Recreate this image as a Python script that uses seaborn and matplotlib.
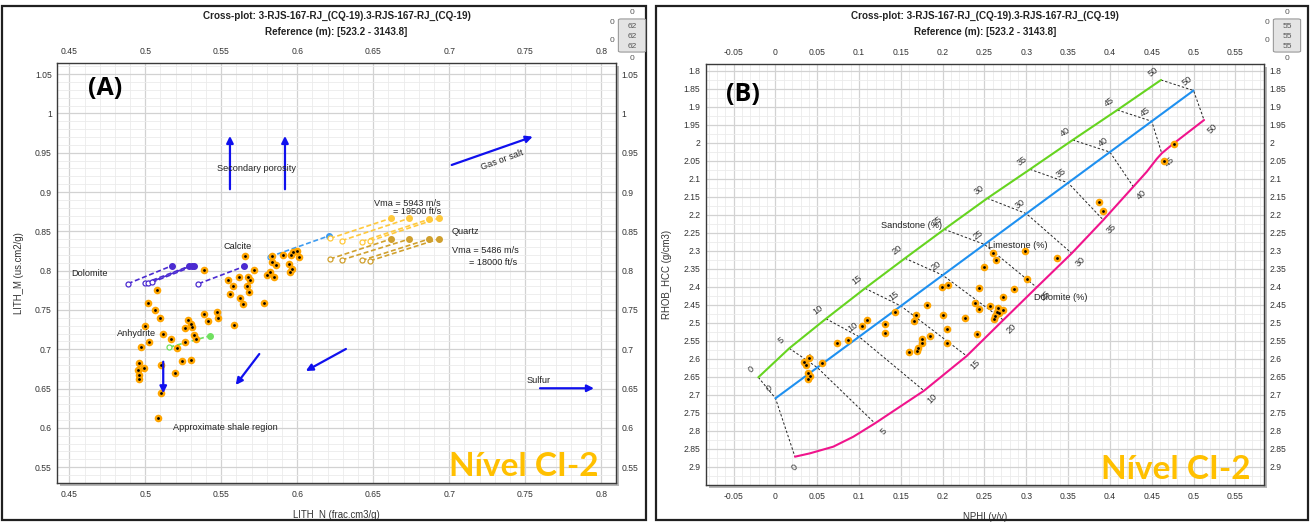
import matplotlib
matplotlib.use("Agg")
import matplotlib.pyplot as plt
from matplotlib.patches import Rectangle, FancyBboxPatch
from matplotlib.ticker import MultipleLocator, FixedLocator, FuncFormatter
import numpy as np
import seaborn as sns

sns.set_style("whitegrid")
plt.rcParams['font.family'] = ['Liberation Sans', 'DejaVu Sans']

# ---------------- panel A : LITH_N x LITH_M ----------------
a_lith_n = [0.5659, 0.5714, 0.5383, 0.5544, 0.5615, 0.5676, 0.5687, 0.5577, 0.5667, 0.5559,
            0.5683, 0.5621, 0.5643, 0.5782, 0.5075, 0.5015, 0.5064, 0.5097, 0.5388, 0.5469,
            0.5480, 0.5412, 0.5282, 0.5300, 0.5306, 0.5260, 0.5581, 0.4998, 0.5119, 0.5322,
            0.5333, 0.5167, 0.5262, 0.5022, 0.5207, 0.4971, 0.4958, 0.4991, 0.4952, 0.4958,
            0.4958, 0.5104, 0.5240, 0.5302, 0.5198, 0.5101, 0.5081, 0.5835, 0.5903, 0.5956,
            0.5974, 0.5996, 0.6011, 0.5835, 0.5862, 0.5945, 0.5967, 0.5952, 0.5804, 0.5822,
            0.5844]
a_lith_m = [0.8183, 0.8004, 0.8013, 0.7885, 0.7915, 0.7915, 0.7885, 0.7809, 0.7809, 0.7703,
            0.7728, 0.7652, 0.7571, 0.7592, 0.7749, 0.7592, 0.7503, 0.7397, 0.7448, 0.7477,
            0.7397, 0.7359, 0.7367, 0.7325, 0.7278, 0.7269, 0.7308, 0.7295, 0.7197, 0.7180,
            0.7129, 0.7129, 0.7087, 0.7091, 0.7014, 0.7027, 0.6828, 0.6760, 0.6734, 0.6670,
            0.6624, 0.6806, 0.6857, 0.6870, 0.6700, 0.6441, 0.6122, 0.8183, 0.8195, 0.8195,
            0.8238, 0.8251, 0.8170, 0.8106, 0.8076, 0.8089, 0.8021, 0.7987, 0.7949, 0.7983,
            0.7915]

# mineral lines (open circle at start, filled circle at end)
min_x0 = [0.4885, 0.4998, 0.5020, 0.5042, 0.5350, 0.5820, 0.5159,
          0.6215, 0.6292, 0.6424, 0.6478, 0.6215, 0.6292, 0.6424, 0.6478]
min_y0 = [0.7834, 0.7843, 0.7843, 0.7850, 0.7834, 0.8178, 0.7027,
          0.8410, 0.8382, 0.8371, 0.8378, 0.8149, 0.8136, 0.8130, 0.8125]
min_x1 = [0.5176, 0.5286, 0.5304, 0.5322, 0.5652, 0.6211, 0.5427,
          0.6616, 0.6737, 0.6866, 0.6930, 0.6616, 0.6737, 0.6866, 0.6930]
min_y1 = [0.8064, 0.8055, 0.8064, 0.8064, 0.8055, 0.8445, 0.7172,
          0.8667, 0.8667, 0.8654, 0.8667, 0.8403, 0.8403, 0.8403, 0.8403]
min_col = ['#4B2BD1'] * 5 + ['#3D9BF0', '#70E060'] + ['#FFC93C'] * 4 + ['#D0A02E'] * 4

# blue arrows
arr_x0 = [0.5557, 0.5919, 0.7016, 0.5118, 0.5750, 0.6320, 0.7597]
arr_y0 = [0.9036, 0.9036, 0.9345, 0.6842, 0.6940, 0.7004, 0.6504]
arr_x1 = [0.5557, 0.5919, 0.7549, 0.5118, 0.5595, 0.6056, 0.7952]
arr_y1 = [0.9714, 0.9714, 0.9705, 0.6440, 0.6546, 0.6724, 0.6504]

# ---------------- panel B : NPHI x RHOB ----------------
b_nphi = [0.4767, 0.4647, 0.3873, 0.3921, 0.2984, 0.3363, 0.2606, 0.2638, 0.2498, 0.3005,
          0.2857, 0.2434, 0.1992, 0.2067, 0.2718, 0.2386, 0.2434, 0.2562, 0.2665, 0.2718,
          0.2645, 0.2625, 0.2614, 0.2677, 0.2267, 0.2000, 0.2055, 0.2406, 0.2047, 0.1808,
          0.1681, 0.1656, 0.1848, 0.1752, 0.1748, 0.1700, 0.1693, 0.1597, 0.1433, 0.1310,
          0.1310, 0.1094, 0.1035, 0.0867, 0.0736, 0.0552, 0.0401, 0.0345, 0.0365, 0.0385,
          0.0413, 0.0385]
b_rhob = [2.0044, 2.0500, 2.1647, 2.1889, 2.3008, 2.3203, 2.3055, 2.3267, 2.3461, 2.3795,
          2.4055, 2.4036, 2.4018, 2.3953, 2.4278, 2.4461, 2.4628, 2.4526, 2.4600, 2.4646,
          2.4694, 2.4814, 2.4888, 2.4740, 2.4861, 2.4787, 2.5167, 2.5314, 2.5573, 2.4508,
          2.4777, 2.4944, 2.5370, 2.5462, 2.5573, 2.5712, 2.5786, 2.5823, 2.4694, 2.5036,
          2.5295, 2.4925, 2.5092, 2.5489, 2.5573, 2.6119, 2.5972, 2.6083, 2.6183, 2.6406,
          2.6472, 2.6572]

porosity = [0, 5, 10, 15, 20, 25, 30, 35, 40, 45, 50]
ss_nphi = [-0.0205, 0.0165, 0.0604, 0.1071, 0.1549, 0.2019, 0.2533, 0.3044, 0.3555, 0.4089, 0.4611]
ss_rhob = [2.6517, 2.5711, 2.4889, 2.4045, 2.3211, 2.2406, 2.1545, 2.0739, 1.9925, 1.9092, 1.8258]
ls_nphi = [0.0, 0.05, 0.10, 0.15, 0.20, 0.25, 0.30, 0.35, 0.40, 0.45, 0.50]
ls_rhob = [2.710, 2.6245, 2.539, 2.4535, 2.368, 2.2825, 2.197, 2.1115, 2.026, 1.9405, 1.855]
dl_nphi = [0.0233, 0.119, 0.1776, 0.2287, 0.2725, 0.3124, 0.3543, 0.3921, 0.428, 0.462, 0.5126]
dl_rhob = [2.8722, 2.7795, 2.689, 2.5925, 2.4925, 2.4018, 2.3073, 2.2147, 2.1222, 2.0295, 1.937]
# dolomite curve trace (bends near zero and near 45 %)
dl_curve_nphi = [0.0233, 0.0413, 0.0691, 0.0931, 0.119, 0.1489, 0.1776, 0.2287, 0.2725, 0.3124,
                 0.3543, 0.3921, 0.428, 0.4441, 0.456, 0.462, 0.4739, 0.5126]
dl_curve_rhob = [2.8722, 2.8628, 2.8444, 2.8167, 2.7795, 2.7333, 2.689, 2.5925, 2.4925, 2.4018,
                 2.3073, 2.2147, 2.1222, 2.0806, 2.045, 2.0295, 2.0064, 1.937]

b_xticks = [-0.05, 0, 0.05, 0.1, 0.15, 0.2, 0.25, 0.3, 0.35, 0.4, 0.45, 0.5, 0.55]
b_yticks = [1.8, 1.85, 1.9, 1.95, 2.0, 2.05, 2.1, 2.15, 2.2, 2.25, 2.3, 2.35, 2.4, 2.45,
            2.5, 2.55, 2.6, 2.65, 2.7, 2.75, 2.8, 2.85, 2.9]

title1 = 'Cross-plot: 3-RJS-167-RJ_(CQ-19).3-RJS-167-RJ_(CQ-19)'
title2 = 'Reference (m): [523.2 - 3143.8]'
stamp = 'Nível CI-2'

W, H = 1311, 524
fig = plt.figure(figsize=(W / 100, H / 100), dpi=100)


def px_box(x0, y0, x1, y1):
    return [x0 / W, 1 - y1 / H, (x1 - x0) / W, (y1 - y0) / H]


# outer panel frames
for x0, x1 in [(2, 646), (656, 1308)]:
    fig.patches.append(Rectangle((x0 / W, 4 / H), (x1 - x0) / W, (H - 10) / H,
                                 transform=fig.transFigure, fill=False,
                                 edgecolor='#202020', lw=1.6))

axA = fig.add_axes(px_box(57.3, 62.7, 616, 483.3))
axB = fig.add_axes(px_box(706, 64, 1264, 485))

# drop shadow behind the plot areas
for ax in (axA, axB):
    b = ax.get_position()
    fig.patches.append(Rectangle((b.x0 + 3 / W, b.y0 - 3 / H), b.width, b.height,
                                 transform=fig.transFigure, facecolor='#B8B8B8',
                                 edgecolor='none', zorder=-1))

fmt = FuncFormatter(lambda v, p: f'{round(v, 3):g}')


def style_axes(ax, xmin, ymin):
    ax.set_facecolor('white')
    ax.xaxis.set_minor_locator(MultipleLocator(xmin))
    ax.yaxis.set_minor_locator(MultipleLocator(ymin))
    ax.xaxis.set_major_formatter(fmt)
    ax.yaxis.set_major_formatter(fmt)
    ax.grid(which='major', color='#D2D2D2', lw=0.9)
    ax.grid(which='minor', color='#EBEBEB', lw=0.6)
    ax.set_axisbelow(True)
    for s in ax.spines.values():
        s.set_color('#3A3A3A')
        s.set_linewidth(1.0)
    ax.tick_params(which='both', length=0, labelsize=6.2, labelcolor='#333333',
                   top=False, right=False, labeltop=True, labelright=True)
    ax.tick_params(axis='x', pad=5)
    ax.tick_params(axis='y', pad=4)


# ---------- panel A ----------
axA.xaxis.set_major_locator(MultipleLocator(0.05))
axA.yaxis.set_major_locator(MultipleLocator(0.05))
style_axes(axA, 0.01, 0.01)
axA.set_xlim(0.4421, 0.8097)
axA.set_ylim(0.5295, 1.0646)

for x0, y0, x1, y1, c in zip(min_x0, min_y0, min_x1, min_y1, min_col):
    axA.plot([x0, x1], [y0, y1], color=c, lw=1.2, ls=(0, (3, 1.6)), zorder=3)
    axA.plot([x0], [y0], marker='o', ms=3.6, mfc='white', mec=c, mew=0.9, zorder=4)
    axA.plot([x1], [y1], marker='o', ms=4, mfc=c, mec=c, zorder=4)

sns.scatterplot(x=a_lith_n, y=a_lith_m, ax=axA, color='#FFA500', s=30, linewidth=0, zorder=5)
sns.scatterplot(x=a_lith_n, y=a_lith_m, ax=axA, color='black', s=4, linewidth=0, zorder=6)

for x0, y0, x1, y1 in zip(arr_x0, arr_y0, arr_x1, arr_y1):
    axA.annotate('', xy=(x1, y1), xytext=(x0, y0),
                 arrowprops=dict(arrowstyle='-|>', color='#1010EE', lw=1.6,
                                 mutation_scale=10, shrinkA=0, shrinkB=0), zorder=6)

ann = dict(fontsize=6.6, color='#222222', zorder=7)
axA.text(0.4516, 0.7958, 'Dolomite', ha='left', va='center', **ann)
axA.text(0.5605, 0.8305, 'Calcite', ha='center', va='center', **ann)
axA.text(0.5730, 0.9303, 'Secondary porosity', ha='center', va='center', **ann)
axA.text(0.7345, 0.9408, 'Gas or salt', ha='center', va='center', rotation=20, **ann)
axA.text(0.6945, 0.8849, 'Vma = 5943 m/s', ha='right', va='center', **ann)
axA.text(0.6945, 0.8751, '= 19500 ft/s', ha='right', va='center', **ann)
axA.text(0.7016, 0.8496, 'Quartz', ha='left', va='center', **ann)
axA.text(0.7016, 0.8254, 'Vma = 5486 m/s', ha='left', va='center', **ann)
axA.text(0.7447, 0.8107, '= 18000 ft/s', ha='right', va='center', **ann)
axA.text(0.4943, 0.7204, 'Anhydrite', ha='center', va='center', **ann)
axA.text(0.5526, 0.6008, 'Approximate shale region', ha='center', va='center', **ann)
axA.text(0.7508, 0.6609, 'Sulfur', ha='left', va='center', **ann)
axA.text(0.4735, 1.0324, '(A)', ha='center', va='center', fontsize=18,
         fontweight='bold', color='black', family=['Open Sans', 'DejaVu Sans'])
axA.text(0.749, 0.5503, stamp, ha='center', va='center', fontsize=24,
         fontweight='bold', color='#FFC000', family=['Lato', 'DejaVu Sans'], zorder=8)
axA.set_xlabel('LITH_N (frac.cm3/g)', fontsize=6.9, color='#333333', labelpad=8)
axA.set_ylabel('LITH_M (us.cm2/g)', fontsize=6.9, color='#333333', labelpad=8)

# ---------- panel B ----------
axB.xaxis.set_major_locator(FixedLocator(b_xticks))
axB.yaxis.set_major_locator(FixedLocator(b_yticks))
style_axes(axB, 0.01, 0.025)
axB.set_xlim(-0.0831, 0.5843)
axB.set_ylim(2.9508, 1.7814)

for i in range(len(porosity)):
    axB.plot([ss_nphi[i], ls_nphi[i], dl_nphi[i]], [ss_rhob[i], ls_rhob[i], dl_rhob[i]],
             color='#222222', lw=0.7, ls=(0, (2.5, 2)), zorder=3)
axB.plot(ss_nphi, ss_rhob, color='#66D420', lw=1.5, zorder=4)
axB.plot(ls_nphi, ls_rhob, color='#1E90F0', lw=1.5, zorder=4)
axB.plot(dl_curve_nphi, dl_curve_rhob, color='#F0148C', lw=1.5, zorder=4)

lab = dict(fontsize=6.6, color='#333333', ha='center', va='center', zorder=5)
for i, p in enumerate(porosity):
    axB.annotate(str(p), (ss_nphi[i], ss_rhob[i]), xytext=(-5.5, 6), textcoords='offset points',
                 rotation=37, **lab)
    axB.annotate(str(p), (ls_nphi[i], ls_rhob[i]), xytext=(-4.7, 7), textcoords='offset points',
                 rotation=37, **lab)
    off = (0, -8) if p == 0 else (6, -6)
    axB.annotate(str(p), (dl_nphi[i], dl_rhob[i]), xytext=off, textcoords='offset points',
                 rotation=45, **lab)

sns.scatterplot(x=b_nphi, y=b_rhob, ax=axB, color='#FFA500', s=30, linewidth=0, zorder=6)
sns.scatterplot(x=b_nphi, y=b_rhob, ax=axB, color='black', s=4, linewidth=0, zorder=7)

axB.text(0.1629, 2.2305, 'Sandstone (%)', ha='center', va='center', **ann)
axB.text(0.2893, 2.2842, 'Limestone (%)', ha='center', va='center', **ann)
axB.text(0.3415, 2.4295, 'Dolomite (%)', ha='center', va='center', **ann)
axB.text(-0.0385, 1.8675, '(B)', ha='center', va='center', fontsize=18,
         fontweight='bold', color='black', family=['Open Sans', 'DejaVu Sans'])
axB.text(0.4785, 2.909, stamp, ha='center', va='center', fontsize=24,
         fontweight='bold', color='#FFC000', family=['Lato', 'DejaVu Sans'], zorder=8)
axB.set_xlabel('NPHI (v/v)', fontsize=6.9, color='#333333', labelpad=8)
axB.set_ylabel('RHOB_HCC (g/cm3)', fontsize=6.9, color='#333333', labelpad=8)

# ---------- titles and small scroll widgets ----------
for cx, val, wx in [(336.5, '62', 632), (985, '55', 1287)]:
    fig.text(cx / W, 1 - 16 / H, title1, ha='center', va='center', fontsize=7.1,
             fontweight='bold', color='#222222')
    fig.text(cx / W, 1 - 32 / H, title2, ha='center', va='center', fontsize=7.1,
             fontweight='bold', color='#222222')
    fig.patches.append(FancyBboxPatch(((wx - 11) / W, 1 - 51 / H), 22 / W, 31 / H,
                                      boxstyle='round,pad=0.002', transform=fig.transFigure,
                                      facecolor='#E4E4E4', edgecolor='#9A9A9A', lw=0.8))
    for k in range(3):
        fig.text(wx / W, 1 - (26 + 10 * k) / H, val, ha='center', va='center',
                 fontsize=6, color='#555555')
    fig.text(wx / W, 1 - 12 / H, '0', ha='center', va='center', fontsize=6, color='#555555')
    fig.text(wx / W, 1 - 58 / H, '0', ha='center', va='center', fontsize=6, color='#555555')
    fig.text((wx - 20) / W, 1 - 22 / H, '0', ha='center', va='center', fontsize=6, color='#555555')
    fig.text((wx - 20) / W, 1 - 40 / H, '0', ha='center', va='center', fontsize=6, color='#555555')

fig.savefig('out.png', dpi=100)
